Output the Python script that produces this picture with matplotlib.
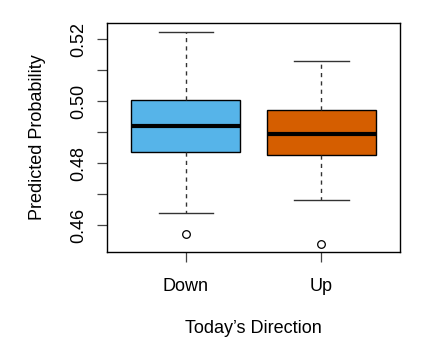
import matplotlib.pyplot as plt
from matplotlib.ticker import MultipleLocator, FuncFormatter

plt.rcParams["font.family"] = ["Liberation Sans", "DejaVu Sans"]

# valores
categorias = ["Down", "Up"]
mediana = [0.4918, 0.4893]
q1 = [0.4836, 0.4825]
q3 = [0.5005, 0.4970]
whisker_baixo = [0.4639, 0.4681]
whisker_alto = [0.5224, 0.5129]
outliers = [[0.4570], [0.4539]]
cores = ["#56B4E9", "#D55E00"]

stats = []
for i in range(len(categorias)):
    stats.append(
        {
            "label": categorias[i],
            "med": mediana[i],
            "q1": q1[i],
            "q3": q3[i],
            "whislo": whisker_baixo[i],
            "whishi": whisker_alto[i],
            "fliers": outliers[i],
        }
    )

fig = plt.figure(figsize=(4.23, 3.39), dpi=100)
ax = fig.add_axes([0.253, 0.257, 0.693, 0.675])

bp = ax.bxp(
    stats,
    positions=[1, 2],
    widths=0.8,
    capwidths=0.4,
    patch_artist=True,
    boxprops=dict(edgecolor="black", linewidth=1.0),
    medianprops=dict(color="black", linewidth=3.0, solid_capstyle="butt"),
    whiskerprops=dict(color="#333333", linewidth=1.0, linestyle=(0, (3, 3))),
    capprops=dict(color="#333333", linewidth=1.0),
    flierprops=dict(marker="o", markerfacecolor="none", markeredgecolor="black",
                    markersize=5.5, markeredgewidth=0.9),
)
for caixa, cor in zip(bp["boxes"], cores):
    caixa.set_facecolor(cor)

ax.set_xlim(0.42, 2.58)
ax.set_ylim(0.4513, 0.5252)

ax.yaxis.set_major_locator(MultipleLocator(0.01))
ax.yaxis.set_major_formatter(
    FuncFormatter(lambda v, p: f"{v:.2f}" if round(v * 100) % 2 == 0 else "")
)
ax.set_xticks([1, 2])
ax.set_xticklabels(categorias)

ax.tick_params(axis="y", length=7.5, width=0.9, pad=7, labelsize=13,
               color="#444444", labelrotation=90)
for lbl in ax.get_yticklabels():
    lbl.set_verticalalignment("center")
ax.tick_params(axis="x", length=7.5, width=0.9, pad=11, labelsize=13,
               color="#444444")

for s in ax.spines.values():
    s.set_linewidth(1.0)

ax.set_ylabel("Predicted Probability", fontsize=13, labelpad=17)
ax.set_xlabel("Today\u2019s Direction", fontsize=13, labelpad=18)

fig.savefig("out.png", dpi=100)
